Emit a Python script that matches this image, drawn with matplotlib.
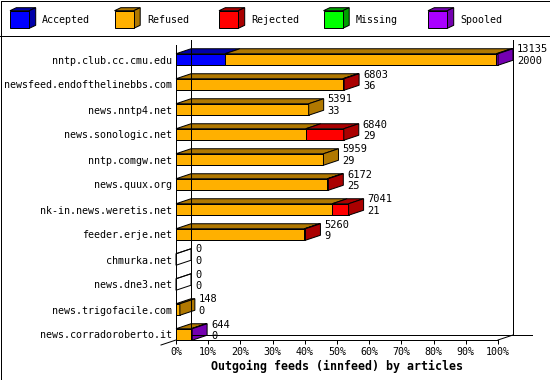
import matplotlib
matplotlib.use('Agg')
import matplotlib.pyplot as plt
from matplotlib.patches import Rectangle, Polygon
from matplotlib.lines import Line2D

# --- data (percent of offered articles) ---
hosts = ['nntp.club.cc.cmu.edu', 'newsfeed.endofthelinebbs.com', 'news.nntp4.net',
         'news.sonologic.net', 'nntp.comgw.net', 'news.quux.org',
         'nk-in.news.weretis.net', 'feeder.erje.net', 'chmurka.net',
         'news.dne3.net', 'news.trigofacile.com', 'news.corradoroberto.it']
offered = [13135, 6803, 5391, 6840, 5959, 6172, 7041, 5260, 0, 0, 148, 644]
accepted_n = [2000, 36, 33, 29, 29, 25, 21, 9, 0, 0, 0, 0]

pct_accepted = [15.2, 0, 0, 0, 0, 0, 0, 0, 0, 0, 0, 0]
pct_refused = [84.3, 51.8, 41.2, 40.3, 45.8, 47.0, 48.5, 39.9, 0, 0, 1.2, 4.7]
pct_rejected = [0, 0.4, 0, 11.8, 0, 0.3, 5.1, 0.3, 0, 0, 0, 0]
pct_missing = [0, 0, 0, 0, 0, 0, 0, 0, 0, 0, 0, 0]
pct_spooled = [0.5, 0, 0, 0, 0, 0, 0, 0, 0, 0, 0, 0.3]

series = ['Accepted', 'Refused', 'Rejected', 'Missing', 'Spooled']
front_colors = ['#0000ff', '#ffb000', '#ff0000', '#00ff00', '#aa00ff']
dark_colors = ['#0000aa', '#b07800', '#aa0000', '#00a000', '#7400b0']

W, H = 550, 380
LW = 0.72  # one pixel at dpi 100
FONT = 'DejaVu Sans Mono'

fig = plt.figure(figsize=(W / 100, H / 100), dpi=100, facecolor='white')

# plot frame in pixels: 0% at x=176, 100% at x=498, wall top y=40, floor y=340
ax = fig.add_axes([176 / W, 1 - 340 / H, 322 / W, 300 / H])
ax.set_xlim(0, 100)
ax.set_ylim(11.22, -0.78)
for s in ax.spines.values():
    s.set_visible(False)

# depth of the fake 3D, 15 px right and 5 px up, in data units
dx = 15 * 100 / 322
dy = 5 / 25
bh = 0.46
y_top, y_floor = -0.78, 11.22

def line(xs, ys):
    ax.add_line(Line2D(xs, ys, color='black', lw=LW, clip_on=False))

# walls and floor
line([0, 0], [y_top + dy, y_floor])
line([dx, dx], [y_top, y_floor - dy])
line([100 + dx, 100 + dx], [y_top, y_floor - dy])
line([dx, 100 + dx + 19 * 100 / 322], [y_floor - dy, y_floor - dy])
line([0, 100], [y_floor, y_floor])
line([100, 100 + dx], [y_floor, y_floor - dy])
line([-dx, 0], [y_floor + dy, y_floor])

stack = list(zip(pct_accepted, pct_refused, pct_rejected, pct_missing, pct_spooled))

for i, vals in enumerate(stack):
    top, bot = i - bh / 2, i + bh / 2
    left = 0
    last = None
    for k, w in enumerate(vals):
        if w <= 0:
            continue
        ax.add_patch(Rectangle((left, top), w, bh, facecolor=front_colors[k],
                               edgecolor='black', lw=LW, clip_on=False))
        ax.add_patch(Polygon([(left, top), (left + w, top), (left + w + dx, top - dy),
                              (left + dx, top - dy)], closed=True,
                             facecolor=dark_colors[k], edgecolor='black', lw=LW, clip_on=False))
        left += w
        last = k
    side_fc = dark_colors[last] if last is not None else 'none'
    if last is None:
        ax.add_patch(Polygon([(0, top), (dx, top - dy)], closed=False, fill=False,
                             edgecolor='black', lw=LW, clip_on=False))
    ax.add_patch(Polygon([(left, top), (left, bot), (left + dx, bot - dy), (left + dx, top - dy)],
                         closed=True, facecolor=side_fc, edgecolor='black', lw=LW, clip_on=False))

    ax.annotate(str(offered[i]), xy=(left, i), xytext=(19, 10), textcoords='offset pixels',
                ha='left', va='center', fontsize=7.5, family=FONT, annotation_clip=False)
    ax.annotate(str(accepted_n[i]), xy=(left, i), xytext=(19, -1.5), textcoords='offset pixels',
                ha='left', va='center', fontsize=7.5, family=FONT, annotation_clip=False)

ax.set_yticks(range(len(hosts)))
ax.set_yticklabels(hosts, family=FONT, fontsize=7.2)
ax.tick_params(axis='y', length=0, pad=2.9)
ax.set_xticks(range(0, 101, 10))
ax.set_xticklabels([f'{v}%' for v in range(0, 101, 10)], family=FONT, fontsize=7.2)
ax.tick_params(axis='x', length=2.9, width=LW, pad=2.2, direction='out')
ax.set_xlabel('Outgoing feeds (innfeed) by articles', family=FONT, fontsize=8.4,
              fontweight='bold', labelpad=2)
ax.set_facecolor('none')

# legend strip along the top
lax = fig.add_axes([0, 1 - 35 / H, 1, 35 / H])
lax.set_xlim(0, W)
lax.set_ylim(35, 0)
lax.axis('off')
for k, name in enumerate(series):
    x0 = 10 + 104.5 * k
    lax.add_patch(Polygon([(x0, 10.7), (x0 + 6.3, 7.7), (x0 + 25.7, 7.7), (x0 + 19.3, 10.7)],
                          closed=True, facecolor=dark_colors[k], edgecolor='black', lw=LW))
    lax.add_patch(Polygon([(x0 + 19.3, 10.7), (x0 + 25.7, 7.7), (x0 + 25.7, 25.3), (x0 + 19.3, 28.3)],
                          closed=True, facecolor=dark_colors[k], edgecolor='black', lw=LW))
    lax.add_patch(Rectangle((x0, 10.7), 19.3, 17.6, facecolor=front_colors[k],
                            edgecolor='black', lw=LW))
    lax.text(x0 + 32.3, 20, name, ha='left', va='center', family=FONT, fontsize=7.2)

# outer border and legend separator, in figure pixels
def fig_line(xs, ys):
    fig.add_artist(Line2D([x / W for x in xs], [1 - y / H for y in ys],
                          transform=fig.transFigure, color='black', lw=LW))

fig_line([0.5, W - 0.5], [0.5, 0.5])
fig_line([0.5, W - 0.5], [H - 0.5, H - 0.5])
fig_line([0.5, 0.5], [0.5, H - 0.5])
fig_line([W - 0.5, W - 0.5], [0.5, H - 0.5])
fig_line([0, W], [35.5, 35.5])

fig.savefig('out.png', dpi=100, facecolor='white')
